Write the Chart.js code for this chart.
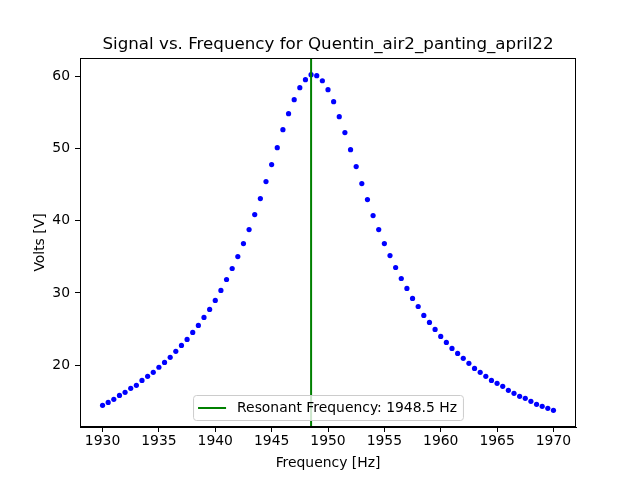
<!DOCTYPE html>
<html>
<head>
<meta charset="utf-8">
<script src="https://cdn.jsdelivr.net/npm/chart.js@4"></script>
<style>
  html, body { margin: 0; padding: 0; background: #fff; }
  canvas { display: block; }
</style>
</head>
<body>
<canvas id="chart" width="640" height="480"></canvas>
<script>
"use strict";

const titleText = "Signal vs. Frequency for Quentin_air2_panting_april22";
const xLabel = "Frequency [Hz]";
const yLabel = "Volts [V]";
const resonantFreq = 1948.5;
const legendLabel = "Resonant Frequency: 1948.5 Hz";

const frequencies = [
  1930, 1930.5, 1931, 1931.5, 1932, 1932.5, 1933, 1933.5, 1934, 1934.5,
  1935, 1935.5, 1936, 1936.5, 1937, 1937.5, 1938, 1938.5, 1939, 1939.5,
  1940, 1940.5, 1941, 1941.5, 1942, 1942.5, 1943, 1943.5, 1944, 1944.5,
  1945, 1945.5, 1946, 1946.5, 1947, 1947.5, 1948, 1948.5, 1949, 1949.5,
  1950, 1950.5, 1951, 1951.5, 1952, 1952.5, 1953, 1953.5, 1954, 1954.5,
  1955, 1955.5, 1956, 1956.5, 1957, 1957.5, 1958, 1958.5, 1959, 1959.5,
  1960, 1960.5, 1961, 1961.5, 1962, 1962.5, 1963, 1963.5, 1964, 1964.5,
  1965, 1965.5, 1966, 1966.5, 1967, 1967.5, 1968, 1968.5, 1969, 1969.5,
  1970,
];
const volts = [
  14.42, 14.83, 15.25, 15.80, 16.22, 16.78, 17.19, 17.88, 18.44, 19.00,
  19.70, 20.37, 21.07, 21.90, 22.73, 23.56, 24.53, 25.50, 26.60, 27.71,
  28.96, 30.34, 31.86, 33.38, 35.04, 36.84, 38.78, 40.86, 43.07, 45.43,
  47.78, 50.13, 52.62, 54.84, 56.77, 58.44, 59.54, 60.24, 60.10, 59.40,
  58.16, 56.50, 54.42, 52.21, 49.85, 47.50, 45.15, 42.93, 40.72, 38.78,
  36.84, 35.18, 33.52, 32.00, 30.62, 29.23, 28.12, 26.88, 25.91, 24.94,
  23.97, 23.14, 22.31, 21.62, 20.93, 20.24, 19.54, 19.00, 18.44, 17.88,
  17.47, 17.05, 16.50, 16.08, 15.67, 15.40, 14.98, 14.56, 14.28, 14.01,
  13.73,
];
const xTicks = [1930, 1935, 1940, 1945, 1950, 1955, 1960, 1965, 1970];
const yTicks = [20, 30, 40, 50, 60];
const xRange = [1928.0, 1972.0];
const yRange = [11.42, 62.55];

const FONT = "'DejaVu Sans', sans-serif";

// frame, titles and the matplotlib-style legend box
const decor = {
  id: "decor",
  afterDraw(chart) {
    const { ctx, chartArea: a } = chart;
    ctx.save();
    ctx.strokeStyle = "#000";
    ctx.lineWidth = 1;
    ctx.strokeRect(Math.round(a.left) + 0.5, Math.round(a.top) + 0.5,
      Math.round(a.right - a.left) - 1, Math.round(a.bottom - a.top) - 1);

    ctx.fillStyle = "#000";
    ctx.textAlign = "center";
    ctx.textBaseline = "alphabetic";
    ctx.font = `16.7px ${FONT}`;
    ctx.fillText(titleText, (a.left + a.right) / 2, 49);
    ctx.font = `13.9px ${FONT}`;
    ctx.fillText(xLabel, (a.left + a.right) / 2, 467);
    ctx.translate(43.5, (a.top + a.bottom) / 2);
    ctx.rotate(-Math.PI / 2);
    ctx.fillText(yLabel, 0, 0);
    ctx.restore();

    // legend (lower center, inside the axes)
    ctx.save();
    ctx.font = `13.9px ${FONT}`;
    const tw = ctx.measureText(legendLabel).width;
    const w = 43 + tw + 7;
    const h = 25;
    const x0 = (a.left + a.right) / 2 - w / 2;
    const y0 = a.bottom - 7 - h;
    ctx.beginPath();
    ctx.roundRect(x0 + 0.5, y0 + 0.5, w, h, 3);
    ctx.fillStyle = "rgba(255,255,255,0.8)";
    ctx.fill();
    ctx.strokeStyle = "#cccccc";
    ctx.lineWidth = 1;
    ctx.stroke();
    const ly = y0 + h / 2 + 0.5;
    ctx.strokeStyle = "#008000";
    ctx.lineWidth = 2;
    ctx.beginPath();
    ctx.moveTo(x0 + 5, ly);
    ctx.lineTo(x0 + 33, ly);
    ctx.stroke();
    ctx.fillStyle = "#000";
    ctx.textAlign = "left";
    ctx.textBaseline = "middle";
    ctx.fillText(legendLabel, x0 + 44, ly);
    ctx.restore();
  },
};

const axisCommon = {
  type: "linear",
  grid: {
    drawOnChartArea: false,
    drawTicks: true,
    tickLength: 5,
    tickColor: "#000",
    tickWidth: 1,
  },
  border: { display: true, color: "#000", width: 1 },
  ticks: {
    color: "#000",
    font: { family: FONT, size: 13.9 },
    callback: (v) => String(v),
  },
};

new Chart(document.getElementById("chart"), {
  type: "scatter",
  data: {
    datasets: [
      {
        label: "Signal",
        data: frequencies.map((f, i) => ({ x: f, y: volts[i] })),
        backgroundColor: "#0000ff",
        borderWidth: 0,
        pointRadius: 2.6,
        order: 2,
      },
      {
        type: "line",
        label: legendLabel,
        data: [{ x: resonantFreq, y: yRange[0] }, { x: resonantFreq, y: yRange[1] }],
        borderColor: "#008000",
        borderWidth: 2,
        pointRadius: 0,
        showLine: true,
        order: 1,
      },
    ],
  },
  options: {
    responsive: false,
    animation: false,
    devicePixelRatio: 1,
    layout: { padding: { top: 58, right: 64, left: 0, bottom: 0 } },
    plugins: {
      legend: { display: false },
      title: { display: false },
      tooltip: { enabled: false },
    },
    scales: {
      x: {
        ...axisCommon,
        position: "bottom",
        min: xRange[0],
        max: xRange[1],
        ticks: { ...axisCommon.ticks, padding: 1, maxRotation: 0 },
        afterBuildTicks: (s) => { s.ticks = xTicks.map((v) => ({ value: v })); },
        afterFit: (s) => { s.height = 53; },
      },
      y: {
        ...axisCommon,
        position: "left",
        min: yRange[0],
        max: yRange[1],
        ticks: { ...axisCommon.ticks, padding: 5 },
        afterBuildTicks: (s) => { s.ticks = yTicks.map((v) => ({ value: v })); },
        afterFit: (s) => { s.width = 80; },
      },
    },
  },
  plugins: [decor],
});
</script>
</body>
</html>
